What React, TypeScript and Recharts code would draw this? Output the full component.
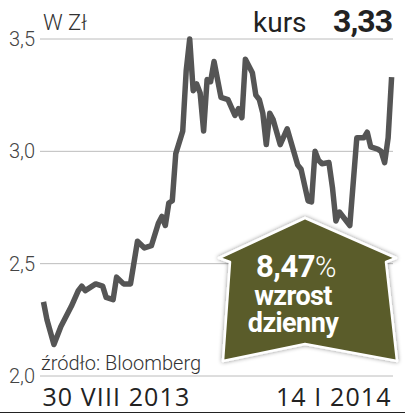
import { LineChart, Line, XAxis, YAxis, CartesianGrid } from 'recharts';

// trading-day index (0 = 30 VIII 2013, 100 = 14 I 2014) and close price
const days = [
  0, 1, 3, 5, 7, 8, 10, 11, 12, 14, 15, 17, 18, 20, 21, 23, 25, 27, 29, 31,
  33, 34, 35, 36, 37, 38, 40, 41, 42, 43, 44, 45, 46, 47, 48, 49, 51, 53, 55, 56,
  57, 58, 60, 61, 62, 63, 64, 65, 66, 68, 70, 73, 74, 76, 77, 78, 79, 80, 82, 83,
  84, 85, 88, 90, 92, 93, 94, 96, 97, 98, 99, 100,
];
const prices = [
  2.33, 2.25, 2.14, 2.22, 2.28, 2.31, 2.38, 2.4, 2.38, 2.4, 2.41, 2.4, 2.35, 2.34, 2.44, 2.41, 2.41, 2.6, 2.57, 2.58,
  2.68, 2.71, 2.67, 2.77, 2.78, 2.99, 3.09, 3.36, 3.5, 3.27, 3.3, 3.26, 3.09, 3.32, 3.31, 3.4, 3.24, 3.23, 3.16, 3.19,
  3.15, 3.41, 3.35, 3.25, 3.23, 3.17, 3.03, 3.17, 3.14, 3.03, 3.1, 2.94, 2.92, 2.78, 2.775, 3.0, 2.96, 2.945, 2.95, 2.84,
  2.69, 2.73, 2.67, 3.06, 3.06, 3.085, 3.02, 3.01, 3.0, 2.95, 3.06, 3.33,
];
const yTicks = [2, 2.5, 3, 3.5];
const dateLabels = ['30 VIII 2013', '14 I 2014'];

const data = days.map((d, i) => ({ day: d, price: prices[i] }));

const fmt = (v: number) => v.toFixed(1).replace('.', ',');

function DateTick({ x, y, index }: any) {
  return (
    <text
      x={index === 0 ? x - 1 : x}
      y={y + 30}
      textAnchor={index === 0 ? 'start' : 'end'}
      fontFamily="'Open Sans', Roboto, sans-serif"
      fontSize={25}
      letterSpacing={1.1}
      fill="#222"
    >
      {dateLabels[index]}
    </text>
  );
}

export default function App() {
  return (
    <div style={{ position: 'relative', width: 405, height: 415, background: '#fff' }}>
      <style>{'body{margin:0}'}</style>
      <LineChart width={405} height={415} data={data} margin={{ top: 39, right: 12, bottom: 0, left: 0 }}>
        <CartesianGrid vertical={false} stroke="#bcbcbc" />
        <XAxis
          dataKey="day"
          type="number"
          domain={[-1, 100.4]}
          ticks={[0, 100]}
          height={39}
          axisLine={false}
          tickLine={false}
          tickSize={0}
          tickMargin={0}
          tick={(p: any) => <DateTick {...p} />}
        />
        <YAxis
          domain={[2, 3.5]}
          ticks={yTicks}
          width={40}
          axisLine={false}
          tickLine={false}
          tickSize={0}
          tickMargin={5}
          tickFormatter={fmt}
          tick={{ fill: '#444', fontSize: 20, fontFamily: 'Roboto', fontWeight: 300 }}
        />
        <Line
          dataKey="price"
          stroke="#555"
          strokeWidth={5.5}
          strokeLinejoin="round"
          dot={false}
          isAnimationActive={false}
        />
      </LineChart>
      <svg
        width={405}
        height={415}
        style={{ position: 'absolute', left: 0, top: 0, pointerEvents: 'none' }}
      >
        <defs>
          <filter id="sh" x="-20%" y="-20%" width="140%" height="140%">
            <feDropShadow dx="0" dy="0" stdDeviation="2" floodColor="#000" floodOpacity="0.45" />
          </filter>
        </defs>
        <text x={43} y={30} fontFamily="Roboto" fontWeight={300} fontSize={22} fill="#333">
          W Zł
        </text>
        <text x={253} y={32} fontFamily="Roboto" fontSize={28} fill="#222">
          kurs
        </text>
        <text x={392} y={32} textAnchor="end" fontFamily="Roboto" fontWeight={700} fontSize={32} letterSpacing={-1} fill="#222">
          3,33
        </text>
        <text x={41} y={370} fontFamily="Roboto" fontWeight={300} fontSize={20} fill="#333">
          źródło: Bloomberg
        </text>
        <line x1={0} x2={405} y1={412.5} y2={412.5} stroke="#222" strokeWidth={1} />
        <polygon
          points="305,218 396,258 386,262 397,361 305,344 223,361 230,262 219,258"
          fill="#5a5c2b"
          stroke="#fff"
          strokeWidth={2.5}
          strokeLinejoin="round"
          filter="url(#sh)"
        />
        <g fontFamily="Roboto" fill="#fff" textAnchor="middle" fontWeight={700}>
          <text x={296} y={277} fontSize={31} letterSpacing={-0.5}>
            8,47<tspan fontWeight={300} fontSize={29}>%</tspan>
          </text>
          <text x={293} y={305} fontSize={27} letterSpacing={-0.6}>
            wzrost
          </text>
          <text x={293} y={332} fontSize={27} letterSpacing={-0.6}>
            dzienny
          </text>
        </g>
      </svg>
    </div>
  );
}
